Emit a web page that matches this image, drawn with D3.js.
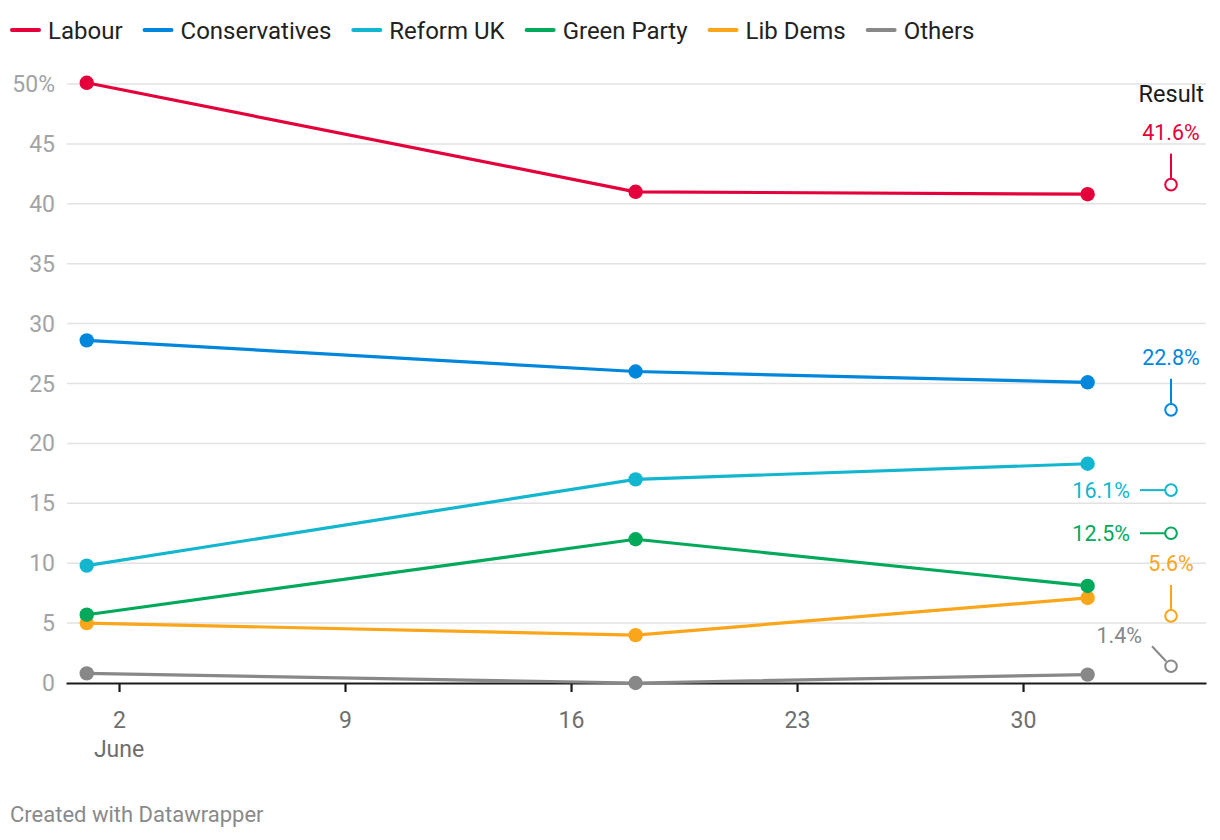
<!DOCTYPE html>
<html>
<head>
<meta charset="utf-8">
<script src="https://cdn.jsdelivr.net/npm/d3@7"></script>
<style>
  html, body { margin: 0; padding: 0; background: #fff; }
  svg { display: block; font-family: Roboto, "Noto Sans", sans-serif; }
</style>
</head>
<body>
<svg id="chart" width="1220" height="840"></svg>
<script>
// ---- data ----
const parties = ["Labour", "Conservatives", "Reform UK", "Green Party", "Lib Dems", "Others"];
const colors = ["#e4003b", "#0087dc", "#12b6cf", "#02a95b", "#faa61a", "#888888"];
const pollDates = ["2024-06-01", "2024-06-18", "2024-07-02"];
const labourValues = [50.1, 41.0, 40.8];
const conservativeValues = [28.6, 26.0, 25.1];
const reformValues = [9.8, 17.0, 18.3];
const greenValues = [5.7, 12.0, 8.1];
const libDemValues = [5.0, 4.0, 7.1];
const othersValues = [0.8, 0.0, 0.7];
const resultDate = "2024-07-04T14:00";
const resultValues = [41.6, 22.8, 16.1, 12.5, 5.6, 1.4];
const resultLabels = ["41.6%", "22.8%", "16.1%", "12.5%", "5.6%", "1.4%"];
const labelPlacement = ["top", "top", "left", "left", "top", "topleft"];
const yTicks = [0, 5, 10, 15, 20, 25, 30, 35, 40, 45, 50];
const xTickDates = ["2024-06-02", "2024-06-09", "2024-06-16", "2024-06-23", "2024-06-30"];
const xTickLabels = ["2", "9", "16", "23", "30"];
const xDomain = ["2024-05-31T08:35", "2024-07-05T16:00"];

const seriesValues = [labourValues, conservativeValues, reformValues, greenValues, libDemValues, othersValues];

const svg = d3.select("#chart");
const parse = s => new Date(s + (s.length === 10 ? "T00:00Z" : "Z"));

const margin = { left: 66, right: 1206, top: 84, bottom: 683 };
const x = d3.scaleUtc().domain(xDomain.map(parse)).range([margin.left, margin.right]);
const y = d3.scaleLinear().domain([0, 50]).range([margin.bottom, margin.top]);

// ---- legend ----
const legend = svg.append("g").attr("font-size", 24).attr("fill", "#222");
let lx = 10;
parties.forEach((p, i) => {
  legend.append("line").attr("x1", lx + 2).attr("x2", lx + 29).attr("y1", 30).attr("y2", 30)
    .attr("stroke", colors[i]).attr("stroke-width", 4).attr("stroke-linecap", "round");
  const t = legend.append("text").attr("x", lx + 38).attr("y", 38.5).text(p);
  const w = t.node().getComputedTextLength();
  lx = lx + 38 + w + 20;
});

// ---- grid ----
const grid = svg.append("g");
grid.selectAll("line").data(yTicks.filter(d => d > 0)).join("line")
  .attr("x1", margin.left + 1).attr("x2", margin.right)
  .attr("y1", d => y(d)).attr("y2", d => y(d))
  .attr("stroke", "#e2e2e2").attr("stroke-width", 1.5);

// y labels
svg.append("g").attr("font-size", 23).attr("fill", "#a3a3a3").attr("text-anchor", "end")
  .selectAll("text").data(yTicks).join("text")
  .attr("x", 55).attr("y", d => y(d) + 8)
  .text(d => d === 50 ? "50%" : d);

// x axis
const xAxis = d3.axisBottom(x)
  .tickValues(xTickDates.map(parse))
  .tickFormat((d, i) => xTickLabels[i])
  .tickSize(9).tickSizeOuter(0);
const gx = svg.append("g").attr("transform", `translate(0,${y(0)})`).call(xAxis);
gx.select(".domain").attr("stroke", "#1a1a1a").attr("stroke-width", 2.2);
gx.selectAll(".tick line").attr("stroke", "#1a1a1a").attr("stroke-width", 2.2);
gx.selectAll(".tick text").attr("font-family", "Roboto, sans-serif").attr("font-size", 23)
  .attr("fill", "#6e6e6e").attr("dy", 0).attr("y", 45);
svg.append("text").attr("x", x(parse(xTickDates[0]))).attr("y", 757)
  .attr("text-anchor", "middle").attr("font-size", 23).attr("fill", "#6e6e6e").text("June");

// ---- lines ----
const line = d3.line().x(d => x(d.date)).y(d => y(d.v));
const seriesData = seriesValues.map((vals, i) => ({
  name: parties[i], color: colors[i],
  pts: vals.map((v, j) => ({ date: parse(pollDates[j]), v }))
}));
const drawOrder = [5, 4, 3, 2, 1, 0];
drawOrder.forEach(i => {
  const s = seriesData[i];
  svg.append("path").attr("d", line(s.pts)).attr("fill", "none")
    .attr("stroke", s.color).attr("stroke-width", 3.2).attr("stroke-linejoin", "round");
  svg.append("g").selectAll("circle").data(s.pts).join("circle")
    .attr("cx", d => x(d.date)).attr("cy", d => y(d.v)).attr("r", 7.2)
    .attr("fill", s.color);
});

// ---- results ----
svg.append("text").attr("x", 1204).attr("y", 102).attr("text-anchor", "end")
  .attr("font-size", 23.5).attr("fill", "#1a1a1a").text("Result");
const rx = x(parse(resultDate));
resultValues.forEach((v, i) => {
  const cy = y(v);
  const g = svg.append("g");
  const pl = labelPlacement[i];
  if (pl === "top") {
    g.append("line").attr("x1", rx).attr("x2", rx).attr("y1", cy - 31).attr("y2", cy - 6)
      .attr("stroke", colors[i]).attr("stroke-width", 2);
    g.append("text").attr("x", rx).attr("y", cy - 45).attr("text-anchor", "middle")
      .attr("font-size", 21.5).attr("fill", colors[i]).text(resultLabels[i]);
  } else if (pl === "left") {
    g.append("line").attr("x1", rx - 31).attr("x2", rx - 6).attr("y1", cy).attr("y2", cy)
      .attr("stroke", colors[i]).attr("stroke-width", 2);
    g.append("text").attr("x", rx - 41).attr("y", cy + 7.5).attr("text-anchor", "end")
      .attr("font-size", 21.5).attr("fill", colors[i]).text(resultLabels[i]);
  } else {
    g.append("line").attr("x1", rx - 19).attr("x2", rx - 5).attr("y1", cy - 20).attr("y2", cy - 5)
      .attr("stroke", colors[i]).attr("stroke-width", 2);
    g.append("text").attr("x", rx - 29).attr("y", cy - 23).attr("text-anchor", "end")
      .attr("font-size", 21.5).attr("fill", colors[i]).text(resultLabels[i]);
  }
  g.append("circle").attr("cx", rx).attr("cy", cy).attr("r", 5.8)
    .attr("fill", "#fff").attr("stroke", colors[i]).attr("stroke-width", 2);
});

// ---- footer ----
svg.append("text").attr("x", 10).attr("y", 822).attr("font-size", 22).attr("fill", "#8a8a8a")
  .text("Created with Datawrapper");
</script>
</body>
</html>
